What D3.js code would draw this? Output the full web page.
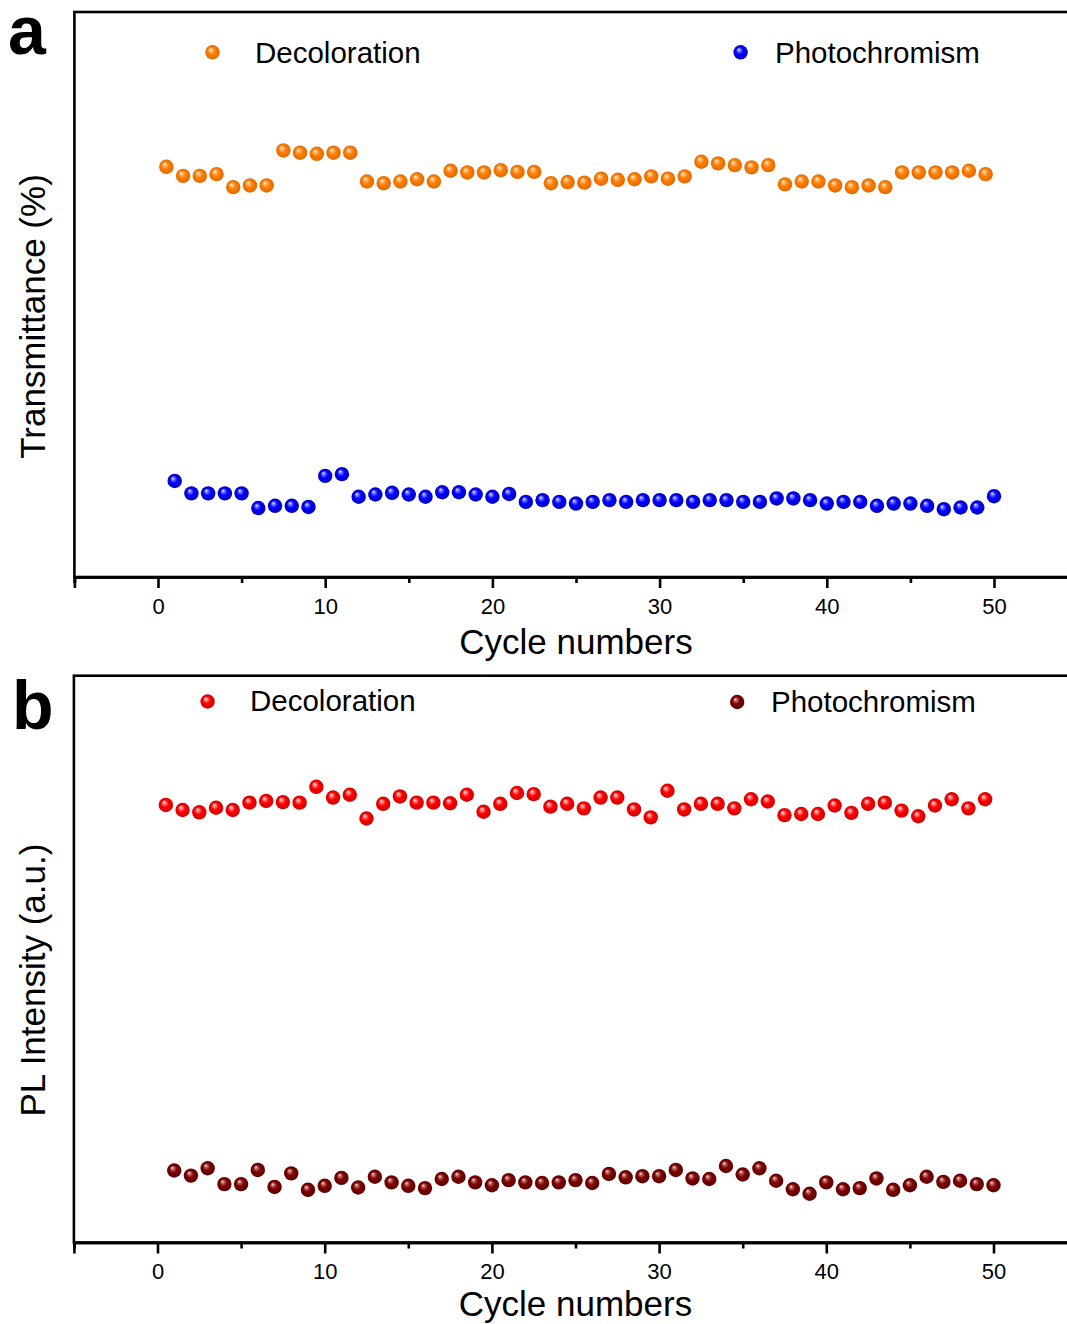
<!DOCTYPE html>
<html>
<head>
<meta charset="utf-8">
<script src="https://cdn.jsdelivr.net/npm/d3@7"></script>
<style>
  html, body { margin: 0; padding: 0; background: #fff; }
  svg { display: block; font-family: "Liberation Sans", Arial, sans-serif; }
</style>
</head>
<body>
<svg id="chart" width="1067" height="1324"></svg>
<script>
// ---------- DATA ----------
const xDecol = [0.5,1.5,2.5,3.5,4.5,5.5,6.5,7.5,8.5,9.5,10.5,11.5,12.5,13.5,14.5,15.5,16.5,17.5,18.5,19.5,
  20.5,21.5,22.5,23.5,24.5,25.5,26.5,27.5,28.5,29.5,30.5,31.5,32.5,33.5,34.5,35.5,36.5,37.5,38.5,39.5,
  40.5,41.5,42.5,43.5,44.5,45.5,46.5,47.5,48.5,49.5];
const xPhoto = [1,2,3,4,5,6,7,8,9,10,11,12,13,14,15,16,17,18,19,20,21,22,23,24,25,26,27,28,29,30,
  31,32,33,34,35,36,37,38,39,40,41,42,43,44,45,46,47,48,49,50];

// Panel a: transmittance (arbitrary units, axis unlabeled)
const transDecol = [72.6,71.0,71.0,71.3,69.0,69.3,69.3,75.5,75.1,74.9,75.1,75.1,70.0,69.7,70.0,70.4,70.0,71.9,71.6,71.6,
  72.0,71.7,71.7,69.7,69.9,69.8,70.5,70.3,70.4,70.9,70.5,70.9,73.5,73.2,72.9,72.5,72.9,69.5,70.0,70.0,
  69.3,69.0,69.3,69.0,71.6,71.6,71.6,71.6,71.9,71.3];
const transPhoto = [17.0,14.8,14.8,14.8,14.8,12.2,12.6,12.6,12.4,17.9,18.2,14.2,14.6,14.9,14.6,14.2,15.0,15.0,14.6,14.2,
  14.7,13.3,13.6,13.3,13.0,13.3,13.6,13.3,13.6,13.6,13.6,13.3,13.6,13.6,13.3,13.3,13.9,13.9,13.6,13.0,
  13.3,13.3,12.6,13.0,13.0,12.6,12.0,12.3,12.3,14.3];

// Panel b: PL intensity (arbitrary units, axis unlabeled)
const plDecol = [77.2,76.3,75.9,76.7,76.3,77.6,77.9,77.7,77.6,80.4,78.5,79.0,74.8,77.4,78.7,77.6,77.6,77.5,79.0,76.0,
  77.4,79.3,79.1,76.9,77.4,76.6,78.5,78.5,76.4,75.0,79.7,76.4,77.4,77.4,76.6,78.2,77.8,75.4,75.6,75.6,
  77.1,75.8,77.4,77.6,76.2,75.2,77.1,78.2,76.6,78.2];
const plPhoto = [12.7,11.8,13.1,10.3,10.3,12.8,9.8,12.2,9.3,10.0,11.4,9.7,11.6,10.6,10.0,9.6,11.2,11.6,10.6,10.1,
  11.0,10.6,10.5,10.6,11.0,10.5,12.1,11.5,11.7,11.7,12.8,11.3,11.2,13.5,12.0,13.1,10.9,9.4,8.6,10.6,
  9.4,9.6,11.3,9.3,10.1,11.6,10.7,10.9,10.3,10.1];

const xDomain = [-5, 55];
const majorTicks = [0, 10, 20, 30, 40, 50];
const minorTicks = [-5, 5, 15, 25, 35, 45, 55];
const yDomain = [0, 100];

const seriesNames = ["Decoloration", "Photochromism"];

// ---------- DRAW ----------
const svg = d3.select("#chart");
const defs = svg.append("defs");

function makeGrad(id, light, base, dark) {
  const g = defs.append("radialGradient").attr("id", id)
    .attr("cx", "0.5").attr("cy", "0.5").attr("r", "0.5")
    .attr("fx", "0.36").attr("fy", "0.3");
  g.append("stop").attr("offset", "0%").attr("stop-color", "#ffffff");
  g.append("stop").attr("offset", "18%").attr("stop-color", light);
  g.append("stop").attr("offset", "50%").attr("stop-color", base);
  g.append("stop").attr("offset", "100%").attr("stop-color", dark);
}
makeGrad("gOrange", "#ffc080", "#ff8000", "#e06800");
makeGrad("gBlue", "#8080ff", "#0000ff", "#0000c0");
makeGrad("gRed", "#ff9090", "#ff0000", "#d00000");
makeGrad("gMaroon", "#c07070", "#800000", "#5a0000");

function panel(cfg) {
  const x = d3.scaleLinear().domain(xDomain).range([cfg.left, cfg.right]);
  const y = d3.scaleLinear().domain(yDomain).range([cfg.bottom, cfg.top]);
  const g = svg.append("g");

  g.append("rect")
    .attr("x", x(xDomain[0])).attr("y", y(yDomain[1]))
    .attr("width", x(xDomain[1]) - x(xDomain[0]))
    .attr("height", y(yDomain[0]) - y(yDomain[1]))
    .attr("fill", "none").attr("stroke", "#000").attr("stroke-width", 2.6);

  const axMajor = d3.axisBottom(x).tickValues(majorTicks).tickSize(11).tickPadding(10)
    .tickFormat(d3.format("d"));
  const axMinor = d3.axisBottom(x).tickValues(minorTicks).tickSize(6).tickFormat("");

  const gMin = g.append("g").attr("transform", `translate(0,${cfg.bottom})`).call(axMinor);
  const gMaj = g.append("g").attr("transform", `translate(0,${cfg.bottom})`).call(axMajor);
  [gMin, gMaj].forEach(a => {
    a.select(".domain").attr("stroke", "#000").attr("stroke-width", 2.6);
    a.selectAll(".tick line").attr("stroke", "#000").attr("stroke-width", 2.6);
  });
  gMaj.selectAll(".tick text")
    .attr("font-size", 22).attr("fill", "#000")
    .attr("font-family", "'Liberation Sans', Arial, sans-serif");

  g.append("text")
    .attr("x", (x(xDomain[0]) + x(xDomain[1])) / 2)
    .attr("y", cfg.xTitleY)
    .attr("text-anchor", "middle").attr("font-size", 35).attr("fill", "#000")
    .text("Cycle numbers");

  g.append("text")
    .attr("transform", `translate(${cfg.yTitleX},${(cfg.top + cfg.bottom) / 2 + cfg.yTitleShift}) rotate(-90)`)
    .attr("text-anchor", "middle").attr("font-size", 35).attr("fill", "#000")
    .text(cfg.yTitle);

  g.append("text")
    .attr("x", cfg.labelX).attr("y", cfg.labelY)
    .attr("font-size", 68).attr("font-weight", "bold").attr("fill", "#000")
    .text(cfg.label);

  const r = 7.2;
  g.append("g").selectAll("circle")
    .data(cfg.xs1.map((d, i) => [d, cfg.v1[i]]))
    .join("circle")
    .attr("cx", d => x(d[0])).attr("cy", d => y(d[1])).attr("r", r)
    .attr("fill", `url(#${cfg.grad1})`);
  g.append("g").selectAll("circle")
    .data(cfg.xs2.map((d, i) => [d, cfg.v2[i]]))
    .join("circle")
    .attr("cx", d => x(d[0])).attr("cy", d => y(d[1])).attr("r", r)
    .attr("fill", `url(#${cfg.grad2})`);

  cfg.legend.forEach((L, i) => {
    g.append("circle").attr("cx", L.cx).attr("cy", L.cy).attr("r", r)
      .attr("fill", `url(#${i === 0 ? cfg.grad1 : cfg.grad2})`);
    g.append("text").attr("x", L.tx).attr("y", L.ty)
      .attr("font-size", 29.5).attr("fill", "#000").text(seriesNames[i]);
  });
}

panel({
  left: 74.4, right: 1077.6, top: 12, bottom: 577,
  xTitleY: 654, yTitleX: 45, yTitleShift: 22, yTitle: "Transmittance (%)",
  label: "a", labelX: 8, labelY: 54,
  xs1: xDecol, v1: transDecol, grad1: "gOrange",
  xs2: xPhoto, v2: transPhoto, grad2: "gBlue",
  legend: [{cx: 212.5, cy: 52.3, tx: 255, ty: 63}, {cx: 740.6, cy: 52.3, tx: 775, ty: 63}]
});

panel({
  left: 73.9, right: 1077.1, top: 675.7, bottom: 1242.5,
  xTitleY: 1316, yTitleX: 45, yTitleShift: 21, yTitle: "PL Intensity (a.u.)",
  label: "b", labelX: 12, labelY: 729,
  xs1: xDecol, v1: plDecol, grad1: "gRed",
  xs2: xPhoto, v2: plPhoto, grad2: "gMaroon",
  legend: [{cx: 207.6, cy: 701.5, tx: 250, ty: 711}, {cx: 737.2, cy: 702, tx: 771, ty: 712}]
});
</script>
</body>
</html>
